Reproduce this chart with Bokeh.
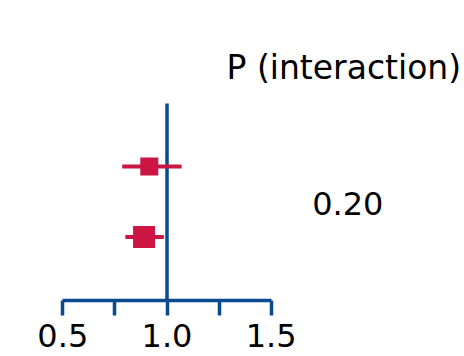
from bokeh.plotting import figure
from bokeh.models import Range1d, LinearAxis, FixedTicker, Label, ColumnDataSource
from bokeh.embed import file_html
from bokeh.resources import INLINE

# data
rows = [2, 1]                      # row positions (top, bottom)
estimates = [0.915, 0.89]
ci_low = [0.785, 0.80]
ci_high = [1.07, 0.985]
marker_sizes = [18, 22]            # square sizes (weights)
p_interaction = "0.20"
header = "P (interaction)"
x_ticks = [0.5, 0.75, 1.0, 1.25, 1.5]
x_tick_labels = {0.5: "0.5", 0.75: "", 1.0: "1.0", 1.25: "", 1.5: "1.5"}
ref_value = 1.0

RED = "#CC1543"
BLUE = "#0A4A8E"
FONT = "DejaVu Sans"

W, H = 464, 356
PX = 208.4          # pixels per x unit
PY = 70.5           # pixels per row
x0 = 0.5 - 62.3 / PX
y_lo = 1 - 63.5 / PY
y_hi = 2 + 166 / PY
p = figure(width=W, height=H, output_backend="svg", toolbar_location=None,
           x_axis_type=None, y_axis_type=None,
           x_range=Range1d(x0, x0 + W / PX),
           y_range=Range1d(y_lo, y_hi),
           min_border_left=0, min_border_right=0, min_border_top=0, min_border_bottom=56)
p.outline_line_color = None
p.grid.visible = False
p.background_fill_color = None
p.border_fill_color = "white"

xaxis = LinearAxis(ticker=FixedTicker(ticks=x_ticks), bounds=(0.5, 1.5),
                   major_label_overrides=x_tick_labels)
xaxis.axis_line_color = BLUE
xaxis.axis_line_width = 3.5
xaxis.major_tick_line_color = BLUE
xaxis.major_tick_line_width = 3.5
xaxis.major_tick_out = 15
xaxis.major_tick_in = 0
xaxis.minor_tick_line_color = None
xaxis.major_label_text_font = FONT
xaxis.major_label_text_font_size = "32px"
xaxis.major_label_text_line_height = 0.9
xaxis.major_label_text_color = "black"
xaxis.major_label_standoff = 8
p.add_layout(xaxis, "below")

# reference line at 1.0
p.segment(x0=[ref_value], x1=[ref_value], y0=[y_lo], y1=[2.894], line_color=BLUE, line_width=3.5)

src = ColumnDataSource(dict(y=rows, est=estimates, lo=ci_low, hi=ci_high, sz=marker_sizes))
p.segment(x0="lo", x1="hi", y0="y", y1="y", source=src, line_color=RED, line_width=4)
p.scatter(x="est", y="y", size="sz", marker="square", source=src,
          fill_color=RED, line_color=RED, line_width=0)

p.add_layout(Label(x=1.2855, y=3.40, text=header, text_font=FONT, text_font_size="33px",
                   text_color="black", text_align="left", text_baseline="alphabetic"))
p.add_layout(Label(x=1.6967, y=1.47, text=p_interaction, text_font=FONT, text_font_size="32px",
                   text_color="black", text_align="left", text_baseline="alphabetic"))

open("out.html", "w").write(file_html(p, INLINE))
